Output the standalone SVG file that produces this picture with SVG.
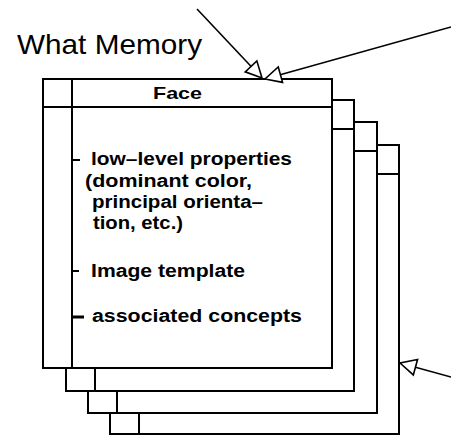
<svg xmlns="http://www.w3.org/2000/svg" width="451" height="435" viewBox="0 0 451 435">
<style>
.box{fill:#fff;stroke:#000;stroke-width:2}
.ln{stroke:#000;stroke-width:2;fill:none}
.tick{stroke:#000;stroke-width:2}
.conn{stroke:#000;stroke-width:1.6;fill:none;marker-end:url(#ah)}
.t{font-family:"Liberation Sans",Arial,Helvetica,sans-serif;font-weight:bold;font-size:18px;fill:#000}
.title{font-family:"Liberation Sans",Arial,Helvetica,sans-serif;font-size:28px;fill:#000}
.hd{font-family:"Liberation Sans",Arial,Helvetica,sans-serif;font-weight:bold;font-size:17px;fill:#000}
</style>
<defs>
<marker id="ah" viewBox="-18 -10 20 20" refX="0" refY="0" markerWidth="20" markerHeight="20" markerUnits="userSpaceOnUse" orient="auto">
<path d="M0,0 L-16,-8 L-16,8 Z" fill="#fff" stroke="#000" stroke-width="1.6" stroke-linejoin="miter"/>
</marker>
</defs>
<rect width="451" height="435" fill="#fff"/>
<text class="title" x="17" y="54" textLength="185" lengthAdjust="spacingAndGlyphs">What Memory</text>
<g id="frame4">
<rect class="box" x="110" y="145" width="289" height="289"/>
<line class="ln" x1="139" y1="145" x2="139" y2="434"/>
<line class="ln" x1="110" y1="174" x2="399" y2="174"/>
</g>
<g id="frame3">
<rect class="box" x="88" y="122" width="289" height="291"/>
<line class="ln" x1="117" y1="122" x2="117" y2="413"/>
<line class="ln" x1="88" y1="151" x2="377" y2="151"/>
</g>
<g id="frame2">
<rect class="box" x="66" y="100" width="288" height="291"/>
<line class="ln" x1="95" y1="100" x2="95" y2="391"/>
<line class="ln" x1="66" y1="129" x2="354" y2="129"/>
</g>
<g id="face">
<rect class="box" x="43" y="79" width="289" height="289"/>
<line class="ln" x1="72" y1="79" x2="72" y2="368"/>
<line class="ln" x1="43" y1="107" x2="332" y2="107"/>
<text class="hd" x="153" y="99" textLength="49" lengthAdjust="spacingAndGlyphs">Face</text>
<line class="tick" x1="72" y1="160" x2="80" y2="160"/>
<text class="t" x="91" y="165" textLength="201" lengthAdjust="spacingAndGlyphs">low–level properties</text>
<text class="t" x="85" y="187" textLength="167" lengthAdjust="spacingAndGlyphs">(dominant color,</text>
<text class="t" x="92" y="208" textLength="171" lengthAdjust="spacingAndGlyphs">principal orienta–</text>
<text class="t" x="93" y="229" textLength="90" lengthAdjust="spacingAndGlyphs">tion, etc.)</text>
<line class="tick" x1="72" y1="271" x2="79" y2="271"/>
<text class="t" x="91" y="277" textLength="154" lengthAdjust="spacingAndGlyphs">Image template</text>
<line class="tick" x1="72" y1="317" x2="84" y2="317" style="stroke-width:3"/>
<text class="t" x="92" y="322" textLength="210" lengthAdjust="spacingAndGlyphs">associated concepts</text>
</g>
<g id="connectors">
<line class="conn" x1="197" y1="9" x2="262" y2="78"/>
<line class="conn" x1="451" y1="27" x2="265" y2="79"/>
<line class="conn" x1="451" y1="377" x2="400" y2="363"/>
</g>
</svg>
